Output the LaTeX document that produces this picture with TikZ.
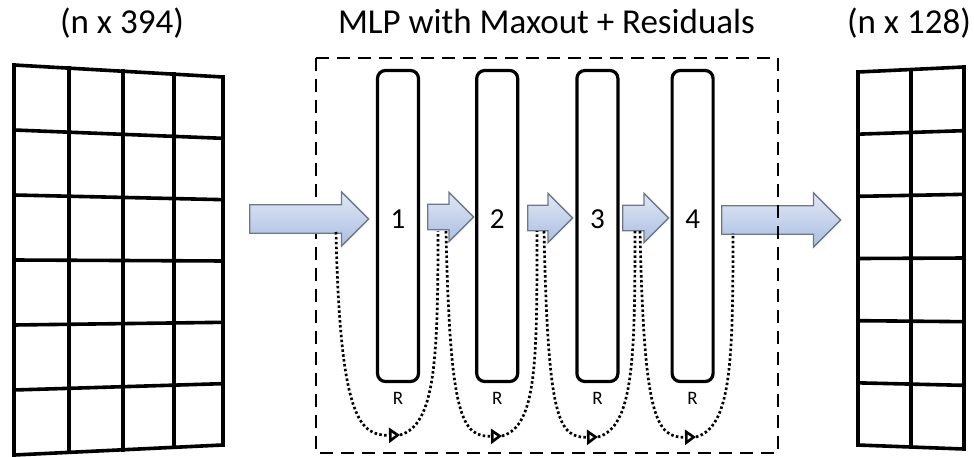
\documentclass[tikz,border=0pt]{standalone}
\usepackage{fontspec}
\setmainfont{Carlito}
\definecolor{ArrowTop}{HTML}{E2E8F5}
\definecolor{ArrowBot}{HTML}{A9BEE2}
\definecolor{ArrowLine}{HTML}{6E7888}
\usetikzlibrary{shapes.arrows, arrows.meta, positioning, calc}

\begin{document}
\begin{tikzpicture}[
  x=1pt, y=-1pt,
  grid/.style={line width=3.6pt, line cap=rect, line join=miter},
  title/.style={font=\fontsize{35}{40}\selectfont, anchor=base, inner sep=0pt},
  layer/.style={
    rectangle, rounded corners=8pt, draw, line width=3.2pt,
    minimum width=41pt, minimum height=311pt, inner sep=0pt
  },
  num/.style={font=\fontsize{29}{32}\selectfont, inner sep=0pt},
  res/.style={font=\fontsize{19}{22}\selectfont, inner sep=0pt},
  flow/.style={
    single arrow, anchor=tail, draw=ArrowLine, line width=1.3pt,
    top color=ArrowTop, bottom color=ArrowBot,
    inner xsep=0pt, single arrow tip angle=90
  },
  bigflow/.style={flow, inner ysep=13.5pt, single arrow head extend=13pt},
  smallflow/.style={flow, inner ysep=12pt, single arrow head extend=12pt},
  skip/.style={line width=2.7pt, dash pattern=on 2.5pt off 2.4pt},
  skiphead/.style={skip, -{Triangle[open, length=11pt, width=15pt, line width=2.6pt]}},
  box/.style={line width=2.8pt, dash pattern=on 13pt off 8pt},
]
\useasboundingbox (0,0) rectangle (974,457);

% titles
\node[title] (tin)  at (122,34)   {(n x 394)};
\node[title] (tmlp) at (546.5,34) {MLP with Maxout + Residuals};
\node[title] (tout) at (909,34)   {(n x 128)};

% input matrix
\foreach \x in {14,69,123,174,223}
  \draw[grid] (\x,{65+(\x-14)*12/209}) -- (\x,{455-(\x-14)*10/209});
\foreach \i in {0,...,6}
  \draw[grid] (14,{65+65*\i}) -- (223,{77+61.33*\i});

% output matrix
\foreach \x in {858,911,964}
  \draw[grid] (\x,{72-(\x-858)*5/106}) -- (\x,{445+(\x-858)*4/106});
\foreach \i in {0,...,6}
  \draw[grid] (858,{72+62.17*\i}) -- (964,{67+63.67*\i});

% layers
\node[layer] (b1) at (398,226) {};
\node[layer, right=55pt of b1] (b2) {};
\node[layer, right=56pt of b2] (b3) {};
\node[layer, right=51pt of b3] (b4) {};

\node[num] (n1) at ($(b1)+(0,-7)$) {1};
\node[num] (n2) at ($(b2)+(0,-7)$) {2};
\node[num] (n3) at ($(b3)+(0,-7)$) {3};
\node[num] (n4) at ($(b4)+(0,-7)$) {4};

\node[res, below=9pt of b1] (rl1) {R};
\node[res, below=9pt of b2] (rl2) {R};
\node[res, below=9pt of b3] (rl3) {R};
\node[res, below=9pt of b4] (rl4) {R};

% flow arrows
\node[bigflow, minimum height=119pt] (a4) at (721,220) {};
\draw[box] (316,58) rectangle (778,453);
\node[bigflow, minimum height=119pt] (a0) at (249,219) {};
\node[smallflow, minimum height=46pt] (a1) at (427,217) {};
\node[smallflow, minimum height=45pt] (a2) at (527,218) {};
\node[smallflow, minimum height=46pt] (a3) at (622,218) {};

% residual paths
\coordinate (s1) at (336,232); \coordinate (m1) at (400,435); \coordinate (e1) at (438,231);
\coordinate (s2) at (446,231); \coordinate (m2) at (502,436); \coordinate (e2) at (537,231);
\coordinate (s3) at (544,231); \coordinate (m3) at (598,437); \coordinate (e3) at (635,231);
\coordinate (s4) at (640,231); \coordinate (m4) at (696,437); \coordinate (e4) at (733,233);

\foreach \i in {1,...,4}{
  \draw[skiphead] (s\i) .. controls ($(s\i)+(4,188)$) and ($(m\i)+(-40,1)$) .. (m\i);
  \draw[skip] (m\i) .. controls ($(m\i)+(35,-10)$) and ($(e\i)+(0,130)$) .. (e\i);
}

\end{tikzpicture}
\end{document}
